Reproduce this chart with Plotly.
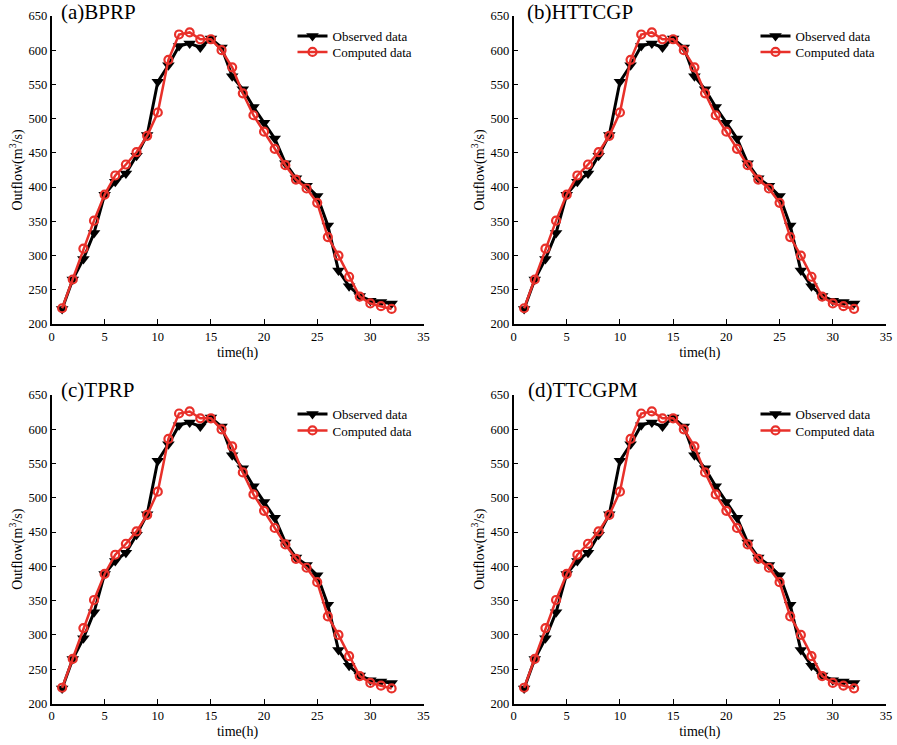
import plotly.graph_objects as go

time_h = list(range(1, 33))
observed = [222, 265, 295, 333, 389, 408, 420, 446, 476, 554, 578, 606, 610, 604, 617, 604,
            562, 543, 517, 494, 471, 435, 413, 402, 387, 344, 278, 255, 241, 234, 232, 230]
computed = [223, 265, 310, 351, 389, 417, 433, 451, 475, 509, 586, 623, 626, 616, 616, 600,
            575, 537, 505, 481, 456, 432, 411, 398, 377, 327, 300, 269, 240, 230, 226, 222]
panel_titles = ["(a)BPRP", "(b)HTTCGP", "(c)TPRP", "(d)TTCGPM"]
series_names = ["Observed data", "Computed data"]
x_ticks = [0, 5, 10, 15, 20, 25, 30, 35]
y_ticks = [200, 250, 300, 350, 400, 450, 500, 550, 600, 650]

W, H = 897, 745
FONT = "Liberation Serif, Times New Roman, serif"

# panel pixel boxes (x0, x1, ytop, ybottom)
boxes = [(51.5, 423.5, 16, 324), (513.5, 886, 16, 324),
         (51.5, 423.5, 395, 703.5), (513.5, 886, 395, 703.5)]
title_x = [59, 525, 59, 526]
title_y = [12, 12, 390, 390]
legend_x = [292.5, 755.5, 292.5, 755.5]
legend_row_y = [(36, 52), (36, 52), (414, 430.5), (414, 430.5)]

fig = go.Figure()
leg_idx = 0
for i, (x0, x1, yt, yb) in enumerate(boxes):
    n = "" if i == 0 else str(i + 1)
    styles = [
        dict(line=dict(color="black", width=3),
             marker=dict(symbol="triangle-down", size=11, color="black")),
        dict(line=dict(color="#e8302a", width=2.5),
             marker=dict(symbol="circle-open", size=8, color="#e8302a",
                         line=dict(width=2.2, color="#e8302a"))),
    ]
    for k, (yvals, st) in enumerate(zip([observed, computed], styles)):
        leg_idx += 1
        leg = "legend" if leg_idx == 1 else "legend" + str(leg_idx)
        fig.add_trace(go.Scatter(
            x=time_h, y=yvals, name=series_names[k], mode="lines+markers",
            xaxis="x" + n, yaxis="y" + n, legend=leg, **st))
        fig.layout[leg] = dict(
            x=legend_x[i] / W, y=1 - (legend_row_y[i][k] - 15) / H,
            xanchor="left", yanchor="top", bgcolor="rgba(0,0,0,0)",
            font=dict(family=FONT, size=13, color="black"), itemwidth=30)

    axcommon = dict(showgrid=False, zeroline=False, showline=True, linecolor="black", linewidth=1.5,
                    ticks="inside", ticklen=5, tickwidth=1.2, tickcolor="black",
                    tickfont=dict(family=FONT, size=12.5, color="black"), automargin=False)
    fig.layout["xaxis" + n] = dict(
        domain=[x0 / W, x1 / W], anchor="y" + n, range=[0, 35], tickvals=x_ticks,
        title=dict(text="time(h)", font=dict(family=FONT, size=14, color="black"), standoff=4),
        **axcommon)
    fig.layout["yaxis" + n] = dict(
        domain=[1 - yb / H, 1 - yt / H], anchor="x" + n, range=[200, 650], tickvals=y_ticks,
        title=dict(text="Outflow(m<sup>3</sup>/s)", font=dict(family=FONT, size=14, color="black"), standoff=3),
        **axcommon)
    fig.add_annotation(
        text=panel_titles[i], x=title_x[i] / W, y=1 - title_y[i] / H,
        xref="paper", yref="paper", xanchor="left", yanchor="middle", showarrow=False,
        font=dict(family=FONT, size=21, color="black"))

fig.update_layout(width=W, height=H, margin=dict(l=0, r=0, t=0, b=0),
                  paper_bgcolor="white", plot_bgcolor="white", showlegend=True)
fig.write_html("out.html", config={"displayModeBar": False},
               post_script="document.body.style.margin='0';document.body.style.overflow='hidden';")
